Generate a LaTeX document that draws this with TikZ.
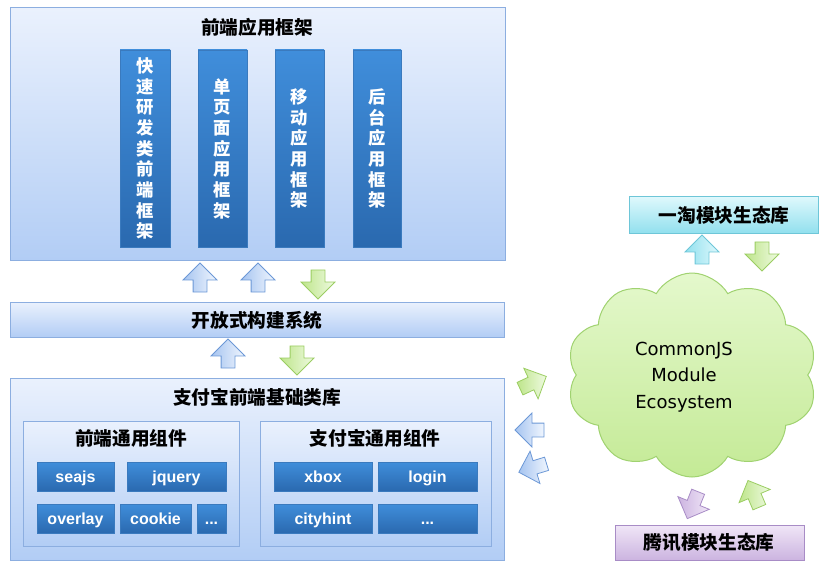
\documentclass[tikz,border=0pt]{standalone}
\usepackage{fontspec}
\setmainfont{Noto Sans CJK SC}
\newfontfamily\latinfont{Liberation Sans}
\newfontfamily\cloudfont{DejaVu Sans}
\usetikzlibrary{fit,shapes.arrows,shapes.symbols,shadows}

\newcommand\moredots{...}

\definecolor{paneltop}{RGB}{234,241,253}
\definecolor{panelbot}{RGB}{178,205,245}
\definecolor{panelline}{RGB}{140,174,224}
\definecolor{bartop}{RGB}{64,142,219}
\definecolor{barbot}{RGB}{42,105,175}
\definecolor{barline}{RGB}{58,122,190}
\definecolor{cyantop}{RGB}{222,248,252}
\definecolor{cyanbot}{RGB}{146,224,238}
\definecolor{cyanline}{RGB}{110,198,216}
\definecolor{purptop}{RGB}{240,230,247}
\definecolor{purpbot}{RGB}{204,180,224}
\definecolor{purpline}{RGB}{168,140,198}
\definecolor{cloudtop}{RGB}{228,248,204}
\definecolor{cloudbot}{RGB}{196,234,150}
\definecolor{cloudline}{RGB}{160,210,112}
\definecolor{greentail}{RGB}{190,229,139}
\definecolor{greentip}{RGB}{238,250,224}
\definecolor{greenline}{RGB}{155,205,98}
\definecolor{bluetail}{RGB}{166,196,240}
\definecolor{bluetip}{RGB}{240,246,254}
\definecolor{blueline}{RGB}{108,152,214}

\tikzset{every picture/.style={line width=0.75pt}}
\tikzset{
  panel/.style={draw=panelline, top color=paneltop, bottom color=panelbot, inner sep=0pt,
    drop shadow={shadow xshift=0.6pt, shadow yshift=-0.8pt, opacity=0.25}},
  modbox/.style={draw=barline, line width=0.4pt, top color=bartop, bottom color=barbot, inner sep=0pt,
    drop shadow={shadow xshift=0.6pt, shadow yshift=-0.8pt, opacity=0.3}},
  modtext/.style={text=white, font=\latinfont\bfseries\fontsize{12}{14}\selectfont,
    text height=10pt, text depth=1.3pt, inner sep=0pt},
  title/.style={font=\bfseries\fontsize{14}{16}\selectfont},
  blockarr/.style={single arrow, single arrow head extend=7.5pt, minimum height=21.75pt,
    inner sep=4.875pt, line width=0.6pt},
  bluearr/.style={draw=blueline, left color=bluetail, right color=bluetip},
  greenarr/.style={draw=greenline, left color=greentail, right color=greentip},
  cyanarr/.style={draw=cyanline, left color=cyanbot, right color=cyantop},
  purparr/.style={draw=purpline, left color=purpbot, right color=purptop},
}

\begin{document}
\begin{tikzpicture}[x=0.75pt,y=0.75pt,yscale=-1,xscale=1]
\useasboundingbox (0,0) rectangle (827,570);

%Shape: Rectangle [front-end frameworks]
\node[panel, fit={(10,8) (505,260)}] (fw) {};
\node[title] (fwt) at (257,27) {前端应用框架};
%Vertical bars
\foreach \n/\xa/\xb/\txt in {1/120/170/{快\\速\\研\\发\\类\\前\\端\\框\\架},
                             2/198/247/{单\\页\\面\\应\\用\\框\\架},
                             3/275/324/{移\\动\\应\\用\\框\\架},
                             4/353/401/{后\\台\\应\\用\\框\\架}}{
  \node[modbox, fit={(\xa,50) (\xb,247)}] (bar\n) {};
  \node[text=white, align=center, font=\bfseries\fontsize{13}{15.5}\selectfont] (bar\n t) at (bar\n.center) {\txt};
}

%Shape: Rectangle [build system]
\node[panel, fit={(10,302) (504,337)}] (build) {};
\node[title] (buildt) at (257,320) {开放式构建系统};

%Shape: Rectangle [base libraries]
\node[panel, fit={(10,378) (504,560)}] (lib) {};
\node[title] (libt) at (257,397) {支付宝前端基础类库};
\node[panel, fit={(23,421) (239,546)}] (common) {};
\node[title] (commont) at (131,438) {前端通用组件};
\node[panel, fit={(260,421) (491,546)}] (alipay) {};
\node[title] (alipayt) at (375,438) {支付宝通用组件};

%Small module boxes
\foreach \nm/\xa/\ya/\xb/\yb/\txt in {seajs/37/462/114/491/seajs, jquery/127/462/226/491/jquery,
    overlay/37/504/114/533/overlay, cookie/120/504/191/533/cookie, morea/197/504/226/533/\moredots,
    xbox/274/462/372/491/xbox, login/378/462/477/491/login,
    cityhint/274/504/372/533/cityhint, moreb/378/504/477/533/\moredots}{
  \node[modbox, fit={(\xa,\ya) (\xb,\yb)}] (\nm) {};
  \node[modtext] (\nm t) at (\nm.center) {\txt};
}

%Shape: Rectangle [module ecosystems]
\node[panel, draw=cyanline, top color=cyantop, bottom color=cyanbot, fit={(629,197) (818,233)}] (etao) {};
\node[title] (etaot) at (724,215) {一淘模块生态库};
\node[panel, draw=purpline, top color=purptop, bottom color=purpbot, fit={(615,525) (804,560)}] (qq) {};
\node[title] (qqt) at (709,542) {腾讯模块生态库};

%Shape: Cloud
\node[cloud, cloud puffs=10, cloud puff arc=120, cloud ignores aspect, minimum width=188pt,
  minimum height=153pt, draw=cloudline, top color=cloudtop, bottom color=cloudbot] (eco) at (692,375) {};
\node[align=center, font=\cloudfont\fontsize{13.5}{20}\selectfont] (ecot) at (684,377) {CommonJS\\Module\\Ecosystem};

%Block arrows
\node[blockarr, bluearr, rotate=90] (upa) at (200,281) {};
\node[blockarr, bluearr, rotate=90] (upb) at (258,281) {};
\node[blockarr, greenarr, rotate=-90] (dna) at (318,281) {};
\node[blockarr, bluearr, rotate=90] (upc) at (228,357) {};
\node[blockarr, greenarr, rotate=-90] (dnb) at (297,357) {};
\node[blockarr, cyanarr, rotate=90] (upetao) at (702,253) {};
\node[blockarr, greenarr, rotate=-90] (dnetao) at (762,253) {};
\node[blockarr, greenarr, rotate=25] (tocloud) at (530,384) {};
\node[blockarr, bluearr, rotate=180] (fromcloud) at (533,430) {};
\node[blockarr, bluearr, rotate=197] (fromcloudb) at (536,467) {};
\node[blockarr, purparr, rotate=-112] (toqq) at (694,502) {};
\node[blockarr, greenarr, rotate=113] (fromqq) at (755,497) {};

\end{tikzpicture}
\end{document}
